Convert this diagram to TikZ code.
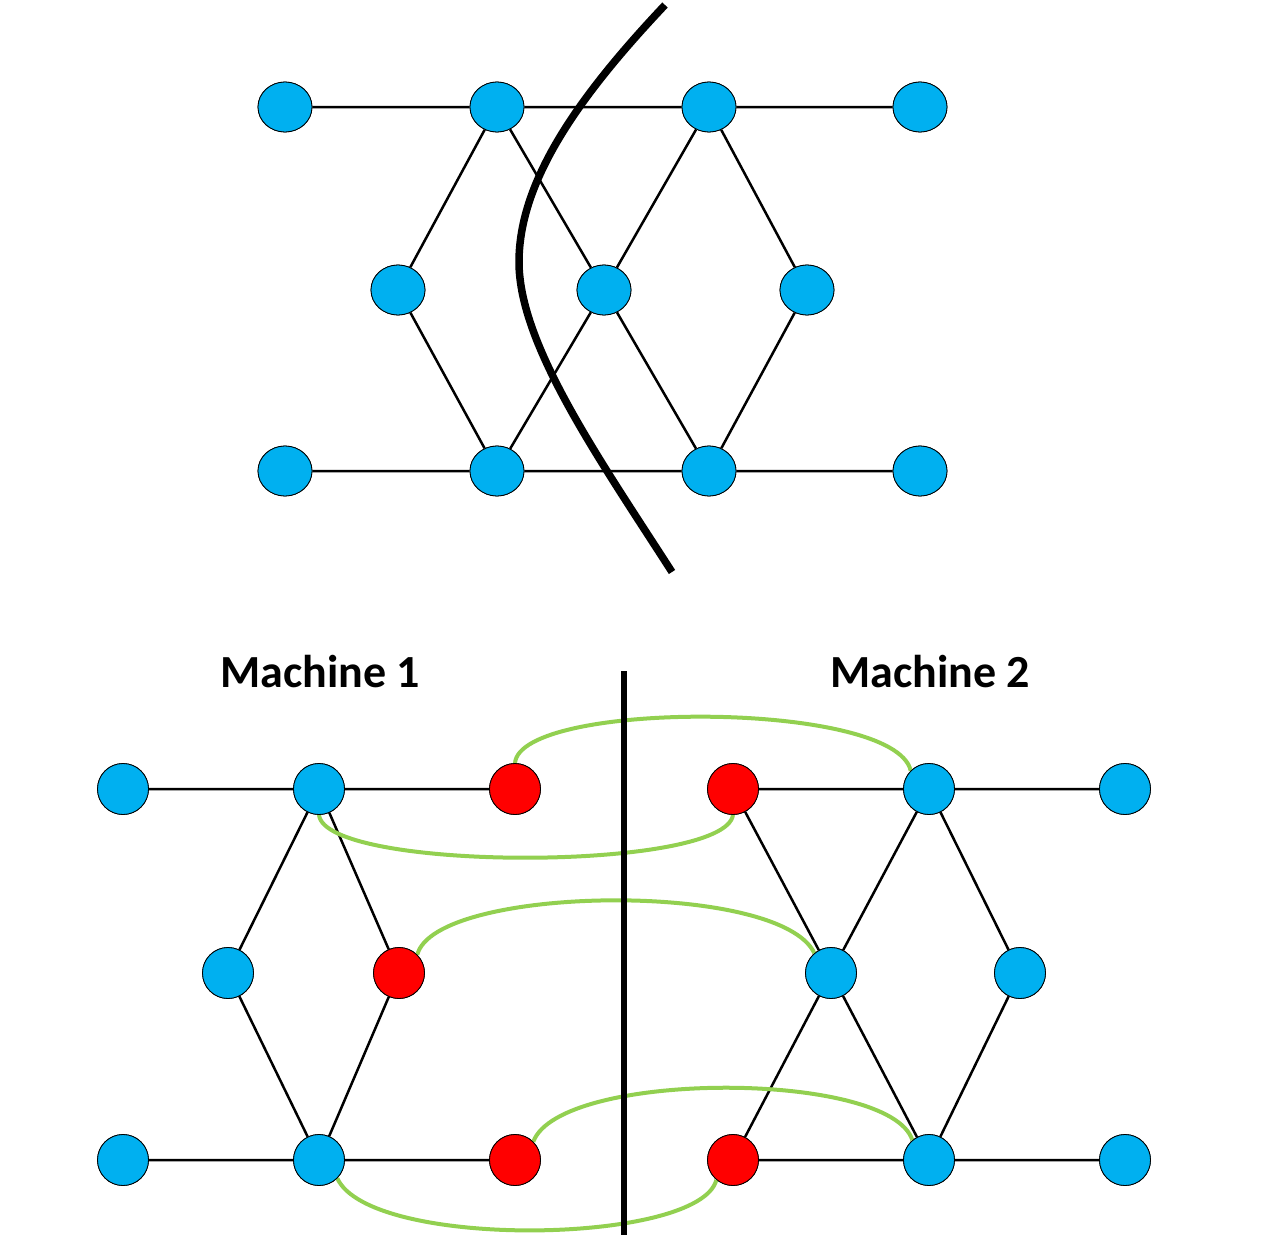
\documentclass[tikz,border=0pt]{standalone}
\usepackage{fontspec}
\setsansfont{Carlito}
\usetikzlibrary{shapes.geometric}
\definecolor{nodeblue}{RGB}{0,176,240}
\definecolor{nodered}{RGB}{255,0,0}
\definecolor{linkgreen}{RGB}{146,208,80}
\tikzset{
  topnode/.style={ellipse, draw=black, line width=0.8pt, fill=nodeblue, minimum width=54pt, minimum height=50pt, inner sep=0pt},
  bnode/.style={circle, draw=black, line width=0.8pt, fill=nodeblue, minimum size=51pt, inner sep=0pt},
  rnode/.style={circle, draw=black, line width=0.8pt, fill=nodered, minimum size=51pt, inner sep=0pt},
  edge/.style={draw=black, line width=2.5pt},
  glink/.style={draw=linkgreen, line width=4pt},
  cutline/.style={draw=black, line width=7.5pt},
  divider/.style={draw=black, line width=6pt},
  mlabel/.style={font=\sffamily\bfseries\fontsize{46pt}{50pt}\selectfont, anchor=base, inner sep=0pt}
}
\begin{document}
\begin{tikzpicture}[x=1pt,y=-1pt]
\useasboundingbox (0,0) rectangle (1286,1242);
% ---------- top graph ----------
\begin{scope}[every node/.style={topnode}]
\node (t11) at (285,107) {};
\node (t12) at (497,107) {};
\node (t13) at (709,107) {};
\node (t14) at (920,107) {};
\node (t21) at (398,290) {};
\node (t22) at (604,290) {};
\node (t23) at (807,290) {};
\node (t31) at (285,471) {};
\node (t32) at (497,471) {};
\node (t33) at (709,471) {};
\node (t34) at (920,471) {};
\end{scope}
\path[edge] (t11) -- (t12) (t12) -- (t13) (t13) -- (t14)
  (t31) -- (t32) (t32) -- (t33) (t33) -- (t34)
  (t12) -- (t21) (t21) -- (t32)
  (t12) -- (t22) (t22) -- (t13)
  (t22) -- (t32) (t22) -- (t33)
  (t13) -- (t23) (t23) -- (t33);
% redraw nodes on top of edges
\begin{scope}[every node/.style={topnode}]
\node at (t11) {}; \node at (t12) {}; \node at (t13) {}; \node at (t14) {};
\node at (t21) {}; \node at (t22) {}; \node at (t23) {};
\node at (t31) {}; \node at (t32) {}; \node at (t33) {}; \node at (t34) {};
\end{scope}
% cut curve
\coordinate (cutA) at (665,5);
\coordinate (cutM) at (519,262);
\coordinate (cutB) at (672,572);
\path[cutline] (cutA) .. controls (580,95) and (519,180) .. (cutM)
  .. controls (519,345) and (600,460) .. (cutB);
% ---------- bottom graph ----------
\coordinate (pa1) at (123,789);
\coordinate (pa2) at (319,789);
\coordinate (pa3) at (515,789);
\coordinate (pb1) at (228,973);
\coordinate (pb2) at (399,973);
\coordinate (pc1) at (123,1160);
\coordinate (pc2) at (319,1160);
\coordinate (pc3) at (515,1160);
\coordinate (qa1) at (733,789);
\coordinate (qa2) at (929,789);
\coordinate (qa3) at (1125,789);
\coordinate (qb1) at (831,973);
\coordinate (qb2) at (1020,973);
\coordinate (qc1) at (733,1160);
\coordinate (qc2) at (929,1160);
\coordinate (qc3) at (1125,1160);
\node[bnode] (a1) at (pa1) {};
\node[bnode] (a2) at (pa2) {};
\node[rnode] (a3) at (pa3) {};
\node[bnode] (b1) at (pb1) {};
\node[rnode] (b2) at (pb2) {};
\node[bnode] (c1) at (pc1) {};
\node[bnode] (c2) at (pc2) {};
\node[rnode] (c3) at (pc3) {};
\node[rnode] (d1) at (qa1) {};
\node[bnode] (d2) at (qa2) {};
\node[bnode] (d3) at (qa3) {};
\node[bnode] (e1) at (qb1) {};
\node[bnode] (e2) at (qb2) {};
\node[rnode] (f1) at (qc1) {};
\node[bnode] (f2) at (qc2) {};
\node[bnode] (f3) at (qc3) {};
% edges
\path[edge] (a1) -- (a2) (a2) -- (a3) (c1) -- (c2) (c2) -- (c3)
  (a2) -- (b1) (b1) -- (c2) (a2) -- (b2) (b2) -- (c2);
\path[edge] (d1) -- (d2) (d2) -- (d3) (f1) -- (f2) (f2) -- (f3)
  (d1) -- (e1) (d2) -- (e1) (d2) -- (e2) (e2) -- (f2)
  (e1) -- (f2) (e1) -- (f1);
% green links
\path[glink] (a3.90) .. controls (520,700) and (895,700) .. (d2.135);
\path[glink] (a2.270) .. controls (325,872) and (725,872) .. (d1.270);
\path[glink] (b2.45) .. controls (435,885) and (780,880) .. (e1.130);
\path[glink] (c3.45) .. controls (560,1070) and (890,1070) .. (f2.130);
\path[glink] (c2.315) .. controls (370,1250) and (700,1245) .. (f1.230);
% redraw nodes on top
\node[bnode] at (pa1) {};
\node[bnode] at (pa2) {};
\node[rnode] at (pa3) {};
\node[bnode] at (pb1) {};
\node[rnode] at (pb2) {};
\node[bnode] at (pc1) {};
\node[bnode] at (pc2) {};
\node[rnode] at (pc3) {};
\node[rnode] at (qa1) {};
\node[bnode] at (qa2) {};
\node[bnode] at (qa3) {};
\node[bnode] at (qb1) {};
\node[bnode] at (qb2) {};
\node[rnode] at (qc1) {};
\node[bnode] at (qc2) {};
\node[bnode] at (qc3) {};
% divider
\coordinate (divT) at (624,671);
\coordinate (divB) at (624,1235);
\path[divider] (divT) -- (divB);
% labels
\node[mlabel] (m1) at (320,687) {Machine 1};
\node[mlabel] (m2) at (930,687) {Machine 2};
\end{tikzpicture}
\end{document}
